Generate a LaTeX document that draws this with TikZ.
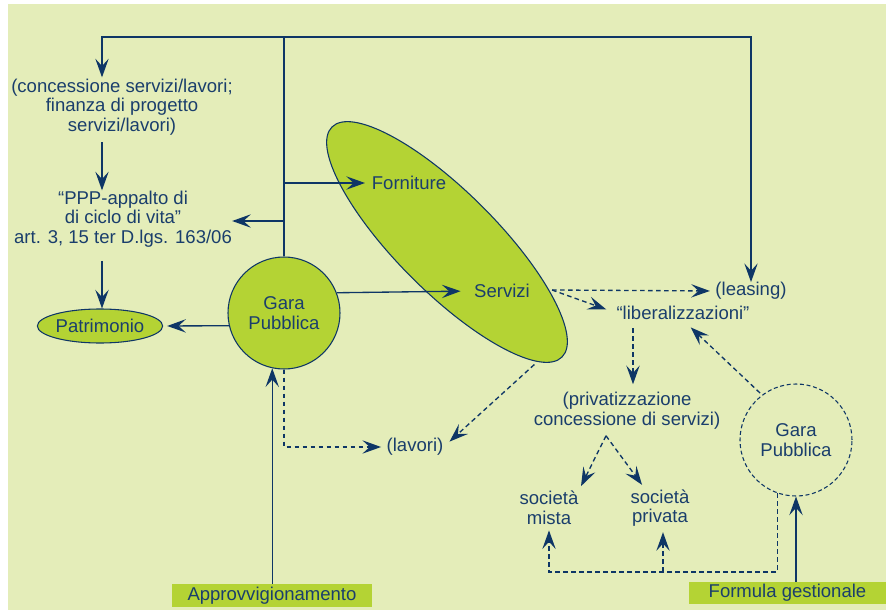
\documentclass[tikz,border=0pt]{standalone}
\usepackage{fontspec}
\setmainfont{Liberation Sans}
\usetikzlibrary{arrows.meta,shapes.geometric,calc}
\definecolor{bg}{RGB}{228,237,185}
\definecolor{lime}{RGB}{180,211,52}
\definecolor{navy}{RGB}{14,54,102}
\definecolor{txt}{RGB}{26,62,108}
\newcommand\dfs{\fontsize{13.9pt}{14.8pt}\selectfont}
\begin{document}
\begin{tikzpicture}[x=0.75pt,y=-0.75pt,
  lbl/.style={text=txt,font=\dfs,align=center,inner sep=0pt},
  ln/.style={draw=navy,line width=1pt},
  tipst/.style={-{Stealth[length=14pt,width=10pt,inset=5.5pt]}},
  arr/.style={ln,tipst},
  dsh/.style={ln,dash pattern=on 3.5pt off 2.5pt},
  darr/.style={dsh,tipst},
  shp/.style={draw=navy,line width=0.8pt,fill=lime,inner sep=0pt,text=txt,font=\dfs,align=center},
  boxst/.style={fill=lime,inner sep=0pt,text=txt,font=\dfs},
]
\useasboundingbox (0,0) rectangle (886,610);
\fill[bg] (8,4) rectangle (886,610);

% shapes
\node[shp,ellipse,minimum width=244pt,minimum height=75pt,rotate=-45] (ell) at (447,242) {};
\node[shp,circle,minimum size=84pt] (gara1) at (284,313) {Gara\\Pubblica};
\node[draw=navy,line width=0.8pt,dash pattern=on 3pt off 2pt,circle,minimum size=84pt,inner sep=0pt,text=txt,font=\dfs,align=center] (gara2) at (796,440) {Gara\\Pubblica};
\node[shp,ellipse,minimum width=87pt,minimum height=25.5pt] (patr) at (100,326) {Patrimonio};
\node[boxst,minimum width=150pt,minimum height=17.25pt] (appr) at (272,595.5) {Approvvigionamento};
\node[boxst,minimum width=148pt,minimum height=16.5pt] (form) at (787.5,593) {Formula gestionale};

% texts
\node[lbl] (conc) at (122,107) {(concessione servizi/lavori;\\finanza di progetto\\servizi/lavori)};
\node[lbl] (ppp) at (123,219) {“PPP-appalto di\\di ciclo di vita”\\art. 3, 15 ter D.lgs. 163/06};
\node[lbl] (forn) at (409,183) {Forniture};
\node[lbl] (serv) at (502,291) {Servizi};
\node[lbl] (leas) at (751,291) {(leasing)};
\node[lbl] (lib) at (683,313) {“liberalizzazioni”};
\node[lbl] (priv) at (627,411) {(privatizzazione\\concessione di servizi)};
\node[lbl] (mista) at (549,508) {società\\mista};
\node[lbl] (privata) at (660,508) {società\\privata};
\node[lbl] (lav) at (415,447) {(lavori)};

% junction coordinates
\coordinate (j1) at (284,37);
\coordinate (jL) at (102,37);
\coordinate (jR) at (751,37);
\coordinate (jF) at (284,183);
\coordinate (jP) at (284,221);
\coordinate (sR) at (552,290);
\coordinate (xL) at (633,0);
\coordinate (pv) at ($(priv.south)+(-21,6)$);
\coordinate (b2) at (549,572);
\coordinate (b3) at (663,572);

% solid connectors
\draw[ln] (gara1.north) -- (j1);
\draw[arr] (j1) -| ($(conc.north -| jL)+(0,-1)$);
\draw[arr] (j1) -| (leas.north);
\draw[arr,shorten <=5pt] (conc.south -| jL) -- (ppp.north -| jL);
\draw[arr,shorten <=10pt] (ppp.south -| jL) -- (patr.north -| jL);
\draw[arr,shorten >=5pt] (jF) -- (forn.west);
\draw[arr] (jP) -- (ppp.east |- jP);
\draw[arr,shorten >=3pt] (gara1.193) -- (patr.east);
\draw[arr,shorten >=10pt] (gara1.21) -- (serv.west);
\draw[arr] (appr.north -| gara1.258) -- (gara1.258);
\draw[arr] (form.north -| gara2.south) -- (gara2.south);

% dashed connectors
\draw[darr,shorten >=4pt] (sR) -- (leas.west);
\draw[darr,shorten >=8pt] (sR) -- (lib.west);
\draw[darr,shorten <=6pt,shorten >=6pt] (lib.south -| xL) -- (priv.north -| xL);
\draw[darr,shorten >=4pt] (pv) -- (mista.north east);
\draw[darr,shorten >=4pt] (pv) -- ($(privata.north west)!0.5!(privata.north)$);
\draw[darr,shorten >=4pt] (gara2.251) |- (b2) -- (mista.south);
\draw[darr,shorten >=4pt] (b3) -- (privata.south -| b3);
\draw[darr,shorten <=2pt,shorten >=8pt] (gara2.127) -- (lib.south);
\draw[darr,shorten >=4pt] (gara1.south) |- (lav.west);
\draw[darr,shorten <=3pt,shorten >=6pt] (ell.-8) -- (lav.east);
\end{tikzpicture}
\end{document}
